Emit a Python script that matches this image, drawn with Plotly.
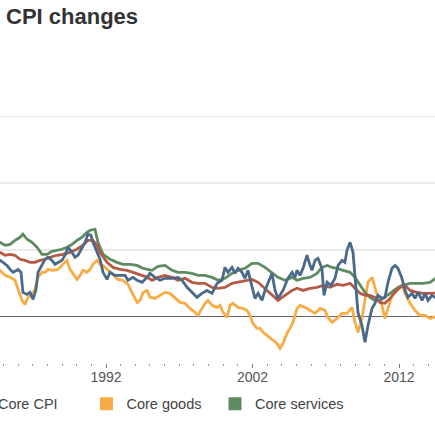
import plotly.graph_objects as go

# year-over-year change (%)
cpi_years = [1984.5, 1984.76, 1984.97, 1985.24, 1985.45, 1985.65, 1985.92, 1985.99, 1986.2, 1986.33,
             1986.61, 1986.81, 1987.02, 1987.22, 1987.36, 1987.63, 1987.84, 1988.04, 1988.31, 1988.52,
             1988.72, 1989.0, 1989.2, 1989.41, 1989.68, 1989.88, 1990.09, 1990.36, 1990.57, 1990.77,
             1990.98, 1991.11, 1991.39, 1991.59, 1991.8, 1992.07, 1992.27, 1992.61, 1992.96, 1993.3,
             1993.5, 1993.84, 1994.12, 1994.46, 1994.8, 1995.0, 1995.34, 1995.69, 1996.03, 1996.51,
             1996.91, 1997.19, 1997.53, 1997.87, 1998.21, 1998.55, 1998.89, 1999.24, 1999.58, 1999.92,
             2000.12, 2000.33, 2000.6, 2000.81, 2001.01, 2001.28, 2001.49, 2001.69, 2001.97, 2002.17,
             2002.38, 2002.65, 2002.85, 2003.06, 2003.33, 2003.54, 2003.74, 2004.08, 2004.42, 2004.7,
             2004.9, 2005.04, 2005.24, 2005.45, 2005.72, 2005.86, 2006.06, 2006.27, 2006.47, 2006.74,
             2006.88, 2007.09, 2007.36, 2007.63, 2007.84, 2008.11, 2008.31, 2008.45, 2008.66, 2008.86,
             2009.0, 2009.2, 2009.47, 2009.68, 2009.88, 2010.16, 2010.36, 2010.57, 2010.84, 2011.04,
             2011.25, 2011.52, 2011.73, 2011.93, 2012.2, 2012.41, 2012.61, 2012.89, 2013.09, 2013.3,
             2013.57, 2013.78, 2013.98, 2014.25, 2014.46, 2014.6]
cpi_values = [4.3, 4.21, 4.06, 3.83, 3.53, 3.31, 3.46, 3.53, 3.31, 1.8,
              1.65, 1.8, 1.28, 2.03, 3.31, 3.91, 4.29, 4.44, 4.21, 3.91,
              4.06, 4.21, 4.59, 5.19, 4.81, 4.44, 4.59, 5.19, 5.56, 6.17,
              6.09, 5.56, 4.81, 4.29, 3.31, 2.78, 3.31, 3.08, 3.08, 3.08,
              2.71, 2.93, 2.71, 2.56, 2.93, 3.23, 2.93, 2.71, 2.86, 2.86,
              2.93, 2.71, 2.18, 1.8, 1.43, 1.73, 1.95, 1.73, 2.48, 2.71,
              3.68, 3.31, 3.68, 3.23, 3.61, 3.31, 2.86, 3.46, 2.18, 1.35,
              1.73, 1.2, 1.95, 2.56, 3.23, 1.95, 1.35, 1.95, 2.86, 3.31,
              2.93, 3.46, 3.08, 3.61, 4.59, 4.06, 3.46, 4.21, 4.36, 3.61,
              1.58, 2.56, 2.33, 2.86, 3.83, 4.21, 4.06, 4.96, 5.56, 4.81,
              2.86, 0.3, -0.68, -1.95, -0.68, 0.6, 0.98, 1.58, 1.35, 1.43,
              2.56, 3.61, 3.83, 3.61, 2.86, 1.95, 1.43, 1.73, 1.35, 1.8,
              1.2, 1.73, 1.2, 1.58, 1.43, 1.5]

core_cpi_years = [1984.5, 1984.76, 1985.11, 1985.45, 1985.79, 1986.13, 1986.47, 1986.81, 1987.15, 1987.49,
                  1987.84, 1988.18, 1988.66, 1989.06, 1989.54, 1990.02, 1990.43, 1990.77, 1991.11, 1991.39,
                  1991.59, 1992.07, 1992.48, 1992.96, 1993.43, 1993.84, 1994.32, 1994.8, 1995.14, 1995.55,
                  1996.03, 1996.51, 1996.91, 1997.39, 1997.87, 1998.28, 1998.76, 1999.24, 1999.65, 2000.12,
                  2000.6, 2001.01, 2001.49, 2001.97, 2002.38, 2002.85, 2003.33, 2003.74, 2004.22, 2004.7,
                  2005.04, 2005.45, 2005.92, 2006.4, 2006.81, 2007.29, 2007.77, 2008.18, 2008.66, 2009.0,
                  2009.34, 2009.68, 2010.02, 2010.36, 2010.7, 2011.04, 2011.39, 2011.73, 2012.07, 2012.41,
                  2012.75, 2013.23, 2013.64, 2014.12, 2014.46, 2014.6]
core_cpi_values = [4.9, 4.81, 4.59, 4.66, 4.59, 4.29, 4.21, 4.06, 4.06, 4.21,
                   4.29, 4.44, 4.59, 4.66, 4.81, 5.04, 5.34, 5.71, 5.71, 5.34,
                   4.81, 4.06, 3.68, 3.53, 3.46, 3.31, 3.16, 2.95, 2.71, 2.93,
                   3.08, 2.93, 2.71, 2.86, 2.56, 2.48, 2.48, 2.18, 2.11, 2.18,
                   2.48, 2.56, 2.71, 2.78, 2.56, 2.11, 1.58, 1.2, 1.58, 1.95,
                   2.11, 1.95, 2.11, 2.18, 2.33, 2.18, 2.41, 2.33, 2.48, 2.11,
                   1.73, 1.58, 1.58, 1.43, 1.05, 0.98, 1.35, 1.8, 2.18, 2.33,
                   1.95, 1.8, 1.73, 1.73, 1.73, 1.75]

core_goods_years = [1984.5, 1984.76, 1985.11, 1985.45, 1985.79, 1985.99, 1986.27, 1986.47, 1986.68, 1986.95,
                    1987.15, 1987.36, 1987.63, 1987.84, 1988.04, 1988.38, 1988.72, 1989.06, 1989.34, 1989.54,
                    1989.75, 1990.02, 1990.23, 1990.43, 1990.7, 1990.91, 1991.11, 1991.39, 1991.59, 1991.8,
                    1992.14, 1992.48, 1992.82, 1993.16, 1993.5, 1993.77, 1994.12, 1994.32, 1994.53, 1994.8,
                    1995.0, 1995.34, 1995.69, 1996.03, 1996.37, 1996.71, 1997.05, 1997.39, 1997.73, 1998.08,
                    1998.28, 1998.55, 1998.76, 1998.96, 1999.24, 1999.58, 1999.78, 1999.99, 2000.26, 2000.46,
                    2000.67, 2001.01, 2001.35, 2001.62, 2001.83, 2002.03, 2002.31, 2002.51, 2002.72, 2002.99,
                    2003.19, 2003.4, 2003.67, 2003.88, 2004.08, 2004.35, 2004.56, 2004.76, 2005.04, 2005.24,
                    2005.58, 2005.92, 2006.27, 2006.61, 2006.95, 2007.15, 2007.43, 2007.77, 2008.11, 2008.45,
                    2008.79, 2009.0, 2009.2, 2009.47, 2009.68, 2009.88, 2010.16, 2010.36, 2010.57, 2010.84,
                    2011.04, 2011.25, 2011.52, 2011.73, 2011.93, 2012.2, 2012.41, 2012.75, 2013.09, 2013.43,
                    2013.78, 2014.12, 2014.46, 2014.6]
core_goods_values = [3.6, 3.46, 3.08, 2.93, 2.71, 2.03, 1.2, 0.9, 1.43, 1.65,
                     2.03, 2.93, 3.31, 3.31, 3.53, 3.46, 3.53, 3.91, 4.21, 3.53,
                     3.16, 2.78, 3.08, 3.46, 3.31, 3.53, 3.91, 4.21, 3.91, 3.83,
                     3.46, 3.08, 2.78, 2.71, 2.41, 1.8, 1.05, 1.2, 1.8, 1.95,
                     1.43, 1.35, 1.58, 1.8, 1.73, 1.35, 1.05, 0.98, 0.6, 0.3,
                     0.08, 0.6, 0.98, 1.2, 0.83, 0.68, 0.83, 0.3, -0.08, 0.83,
                     0.98, 0.68, 0.6, 0.45, 0.08, -0.53, -0.9, -0.9, -1.2, -1.43,
                     -1.58, -1.8, -2.03, -2.41, -2.03, -1.28, -0.9, -0.45, 0.6, 0.83,
                     0.68, 0.45, 0.23, 0.6, 0.45, -0.08, -0.45, -0.15, 0.23, 0.23,
                     0.68, -0.45, -1.2, -0.15, 1.35, 2.56, 2.93, 2.11, 1.35, 0.83,
                     -0.15, 0.6, 1.58, 1.95, 2.18, 2.33, 1.73, 0.98, 0.45, 0.08,
                     0.08, -0.15, -0.08, 0.0]

core_services_years = [1984.5, 1984.76, 1985.11, 1985.45, 1985.79, 1986.13, 1986.33, 1986.61, 1986.95, 1987.29,
                       1987.63, 1987.97, 1988.31, 1988.66, 1989.0, 1989.34, 1989.68, 1990.02, 1990.36, 1990.7,
                       1990.91, 1991.25, 1991.45, 1991.8, 1992.27, 1992.75, 1993.16, 1993.64, 1994.12, 1994.53,
                       1995.0, 1995.14, 1995.55, 1996.03, 1996.51, 1996.91, 1997.39, 1997.87, 1998.28, 1998.76,
                       1999.24, 1999.65, 2000.12, 2000.6, 2001.01, 2001.49, 2001.97, 2002.38, 2002.85, 2003.33,
                       2003.74, 2004.22, 2004.7, 2005.04, 2005.45, 2005.92, 2006.4, 2006.74, 2007.09, 2007.43,
                       2007.77, 2008.18, 2008.66, 2009.0, 2009.34, 2009.68, 2010.02, 2010.36, 2010.7, 2011.04,
                       2011.39, 2011.86, 2012.27, 2012.75, 2013.23, 2013.64, 2014.12, 2014.46, 2014.6]
core_services_values = [5.6, 5.56, 5.34, 5.41, 5.71, 5.94, 6.17, 5.79, 5.56, 5.19,
                        4.66, 4.66, 4.89, 4.96, 5.04, 5.19, 5.41, 5.71, 5.94, 6.32,
                        6.47, 6.54, 5.56, 4.66, 4.29, 4.06, 3.91, 3.91, 3.83, 3.61,
                        3.46, 3.46, 3.76, 3.83, 3.46, 3.31, 3.31, 3.23, 3.08, 3.08,
                        2.93, 2.71, 2.86, 3.23, 3.46, 3.61, 3.98, 3.98, 3.68, 3.31,
                        2.93, 2.71, 2.93, 2.71, 2.86, 2.93, 3.23, 3.68, 3.83, 3.68,
                        3.61, 3.46, 3.31, 2.93, 2.33, 1.8, 1.43, 1.2, 1.2, 1.43,
                        1.73, 2.11, 2.33, 2.48, 2.48, 2.48, 2.56, 2.86, 2.95]

series = [
    ("Core goods", core_goods_years, core_goods_values, "#f9ab45"),
    ("Core services", core_services_years, core_services_values, "#5e8b60"),
    ("Core CPI", core_cpi_years, core_cpi_values, "#b65a44"),
    ("CPI", cpi_years, cpi_values, "#4b6a89"),
]
colors = {s[0]: s[3] for s in series}
# CPI key sits in its own legend, off the left edge like in the original crop
legend_keys = [("CPI", "legend2"), ("Core CPI", "legend"), ("Core goods", "legend"), ("Core services", "legend")]

fig = go.Figure()

for name, years, values, color in series:
    fig.add_trace(
        go.Scatter(
            x=years,
            y=values,
            mode="lines",
            line=dict(color=color, width=2.8),
            name=name,
            showlegend=False,
            hoverinfo="skip",
        )
    )

# square legend keys
for name, leg in legend_keys:
    fig.add_trace(
        go.Scatter(
            x=[None],
            y=[None],
            mode="markers",
            marker=dict(symbol="square", size=13, color=colors[name]),
            name=name,
            legend=leg,
        )
    )

fig.add_annotation(
    text="<b>CPI changes</b>",
    xref="paper",
    yref="paper",
    x=0.009,
    y=1.27,
    xanchor="left",
    yanchor="middle",
    showarrow=False,
    font=dict(size=22, color="#333333"),
)

legend_style = dict(
    orientation="h",
    xanchor="left",
    y=-0.091,
    yanchor="top",
    entrywidth=83.5,
    entrywidthmode="pixels",
    font=dict(size=14.5, color="#444444"),
    bgcolor="rgba(0,0,0,0)",
)

fig.update_layout(
    width=435,
    height=435,
    margin=dict(l=0, r=0, t=90, b=72, autoexpand=False),
    plot_bgcolor="white",
    paper_bgcolor="white",
    font=dict(family="Liberation Sans, Arial, sans-serif", color="#555555"),
    showlegend=True,
    legend=dict(x=-0.0966, **legend_style),
    legend2=dict(x=-0.39, **legend_style),
)

fig.update_xaxes(
    range=[1984.765, 2014.457],
    tick0=1992,
    dtick=10,
    ticks="outside",
    ticklen=4,
    tickwidth=1,
    tickcolor="#777777",
    tickfont=dict(size=14, color="#555555"),
    ticklabelstandoff=-3,
    showgrid=False,
    showline=False,
    zeroline=False,
    minor=dict(tick0=1992, dtick=1, ticks="outside", ticklen=1.5, tickcolor="#999999"),
)

fig.update_yaxes(
    range=[-3.5, 17],
    tick0=0,
    dtick=5,
    showticklabels=False,
    gridcolor="#ebebeb",
    gridwidth=1.5,
    zeroline=True,
    zerolinecolor="#666666",
    zerolinewidth=1.5,
)

# page body has a default 8px margin; drop it so the chart fills the window
fig.write_html(
    "out.html",
    config={"displayModeBar": False, "staticPlot": True},
    post_script="document.body.style.margin='0';",
)
